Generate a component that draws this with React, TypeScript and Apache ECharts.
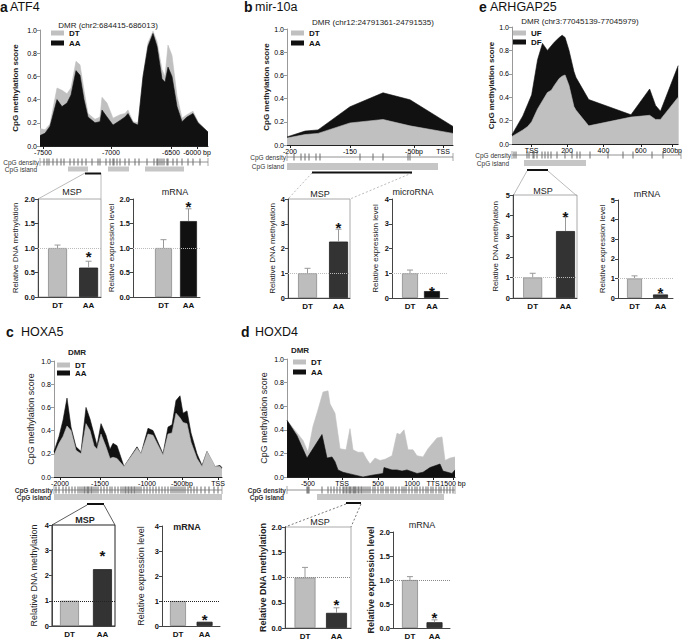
import React, { useEffect, useRef } from 'react';
import * as echarts from 'echarts';

const FONT = '"Liberation Sans", Arial, Helvetica, sans-serif';

// ---------- Panel a: ATF4 ----------
const atf4Pos = [0, 5, 10, 17, 22, 27, 31, 36, 40, 44, 48, 55, 60, 62, 67, 73, 80, 85, 88, 93, 98, 103, 108, 113, 117, 122, 125, 128, 132, 137, 142, 147, 153, 158, 168];
const atf4DT = [0.15, 0.14, 0.19, 0.5, 0.48, 0.45, 0.5, 0.73, 0.7, 0.48, 0.28, 0.23, 0.25, 0.42, 0.37, 0.24, 0.27, 0.28, 0.31, 0.21, 0.2, 0.6, 0.89, 0.99, 0.9, 0.66, 0.6, 0.87, 0.78, 0.43, 0.24, 0.27, 0.3, 0.21, 0.12];
const atf4AA = [0.09, 0.11, 0.17, 0.4, 0.34, 0.37, 0.44, 0.65, 0.61, 0.4, 0.25, 0.2, 0.21, 0.31, 0.25, 0.18, 0.22, 0.25, 0.28, 0.2, 0.18, 0.6, 0.86, 0.97, 0.86, 0.58, 0.55, 0.68, 0.6, 0.34, 0.21, 0.25, 0.28, 0.2, 0.12];
const atf4TickPos = [3, 71, 131, 157];
const atf4TickLabels = ['-7500', '-7000', '-6500', '-6000 bp'];
const atf4Cpg = [4, 7, 9, 13, 17, 21, 24, 30, 34, 38, 42, 46, 52, 58, 60, 66, 70, 73, 74, 77, 80, 85, 89, 95, 99, 107, 114, 117, 118, 120, 122, 124, 127, 128, 133, 137, 142, 148, 153, 160];
const atf4Island = [[28, 48], [68, 89], [105, 144]];
const atf4MspRegion = [45, 61];

// ---------- Panel b: mir-10a ----------
const mirPos = [0, 18, 31, 63, 96, 123, 166];
const mirDT = [0.06, 0.09, 0.1, 0.19, 0.22, 0.165, 0.1];
const mirAA = [0.07, 0.12, 0.13, 0.33, 0.45, 0.39, 0.16];
const mirTickPos = [3, 63, 127, 156];
const mirTickLabels = ['-200', '-150', '-50bp', 'TSS'];
const mirCpg = [7, 14, 18, 22, 29, 33, 73, 86, 96, 121, 123];
const mirIsland = [[0, 151]];
const mirMspRegion = [25, 125];

// ---------- Panel e: ARHGAP25 ----------
const arhPos = [0, 11, 16, 20, 26, 31, 36, 40, 43, 48, 51, 54, 58, 63, 65, 78, 121, 140, 146, 151, 169];
const arhUF = [0.065, 0.12, 0.15, 0.19, 0.3, 0.37, 0.44, 0.46, 0.5, 0.56, 0.58, 0.59, 0.5, 0.32, 0.29, 0.155, 0.23, 0.245, 0.21, 0.21, 0.4];
const arhDF = [0.08, 0.24, 0.34, 0.42, 0.72, 0.86, 0.8, 0.84, 0.87, 0.91, 0.93, 0.91, 0.8, 0.62, 0.57, 0.38, 0.25, 0.47, 0.33, 0.28, 0.67];
const arhTickPos = [20, 56, 93, 131, 163];
const arhTickLabels = ['TSS', '200', '400', '600', '800bp'];
const arhCpg = [2, 4, 15, 17, 21, 22, 25, 30, 33, 36, 39, 45, 53, 60, 65, 68, 78, 96, 111, 121, 140, 151];
const arhIsland = [[12, 74]];
const arhMspRegion = [15, 36];

// ---------- Panel c: HOXA5 ----------
const hoxa5Pos = [0, 5, 9, 13, 17, 22, 27, 32, 36, 40, 43, 47, 52, 56, 59, 63, 70, 83, 87, 94, 99, 109, 114, 118, 122, 126, 129, 133, 137, 143, 148, 153, 159, 161, 166, 168];
const hoxa5AA = [0.22, 0.35, 0.49, 0.68, 0.43, 0.26, 0.22, 0.6, 0.5, 0.37, 0.27, 0.46, 0.36, 0.24, 0.29, 0.27, 0.09, 0.26, 0.2, 0.42, 0.4, 0.2, 0.43, 0.45, 0.66, 0.7, 0.55, 0.57, 0.38, 0.2, 0.1, 0.22, 0.12, 0.09, 0.1, 0.08];
const hoxa5DT = [0.19, 0.29, 0.35, 0.44, 0.4, 0.23, 0.2, 0.46, 0.4, 0.27, 0.24, 0.37, 0.26, 0.16, 0.17, 0.16, 0.09, 0.25, 0.2, 0.37, 0.36, 0.19, 0.37, 0.38, 0.55, 0.51, 0.47, 0.46, 0.3, 0.16, 0.09, 0.22, 0.13, 0.09, 0.09, 0.07];
const hoxa5TickPos = [6, 46, 93, 128, 164];
const hoxa5TickLabels = ['-2000', '-1500', '-1000', '-500bp', 'TSS'];
const hoxa5Cpg = [2, 5, 9, 12, 15, 18, 21, 24, 26, 28, 30, 31, 33, 34, 35, 37, 38, 40, 42, 44, 47, 50, 53, 56, 58, 61, 64, 67, 69, 71, 72, 74, 75, 77, 78, 80, 81, 83, 85, 87, 90, 93, 96, 99, 102, 105, 108, 111, 114, 117, 119, 121, 123, 125, 127, 129, 131, 134, 137, 140, 143, 147, 151, 155, 160, 164];
const hoxa5Island = [[0, 168]];
const hoxa5MspRegion = [33, 50];

// ---------- Panel d: HOXD4 ----------
const hoxd4DtPos = [0, 16, 21, 26, 31, 36, 41, 43, 48, 53, 59, 63, 66, 71, 76, 79, 83, 88, 93, 98, 105, 110, 113, 117, 121, 126, 130, 136, 141, 145, 150, 155, 158, 163, 168];
const hoxd4DT = [0.48, 0.31, 0.21, 0.43, 0.57, 0.72, 0.73, 0.62, 0.54, 0.24, 0.23, 0.41, 0.23, 0.21, 0.21, 0.16, 0.11, 0.16, 0.14, 0.15, 0.18, 0.37, 0.36, 0.4, 0.23, 0.23, 0.18, 0.17, 0.24, 0.28, 0.33, 0.34, 0.14, 0.16, 0.17];
const hoxd4AaPos = [0, 10, 20, 35, 40, 45, 48, 51, 56, 66, 76, 85, 96, 97, 105, 110, 115, 120, 130, 136, 143, 153, 156, 165, 168];
const hoxd4AA = [0.48, 0.35, 0.16, 0.36, 0.16, 0.17, 0.13, 0.06, 0.04, 0.02, 0.0, 0.015, 0.03, 0.08, 0.06, 0.06, 0.05, 0.06, 0.03, 0.04, 0.08, 0.11, 0.05, 0.03, 0.06];
const hoxd4TickPos = [21, 55, 91, 125, 146, 166];
const hoxd4TickLabels = ['-500', 'TSS', '500', '1000', 'TTS', '1500 bp'];
const hoxd4Cpg = [20, 21, 22, 35, 41, 44, 47, 50, 53, 56, 57, 59, 60, 62, 63, 64, 66, 67, 68, 69, 71, 72, 74, 75, 77, 79, 81, 83, 86, 88, 91, 94, 96, 99, 101, 104, 106, 109, 112, 115, 117, 119, 122, 125, 128, 130, 133, 136, 139, 141, 144, 146, 149, 152, 154, 157, 160, 163, 166];
const hoxd4Island = [[30, 157]];
const hoxd4MspRegion = [59, 74];

// ---------- Bar charts ----------
const barCats = ['DT', 'AA'];
const atf4Msp = [1.0, 0.6], atf4MspErr = [1.06, 0.73], atf4MspStar = 0.9;
const atf4Mrna = [1.0, 1.55], atf4MrnaErr = [1.17, 1.8], atf4MrnaStar = 1.92;
const mirMsp = [1.0, 2.28], mirMspErr = [1.2, 2.78], mirMspStar = 3.03;
const mirMicro = [1.0, 0.28], mirMicroErr = [1.13, 0.33], mirMicroStar = 0.44;
const arhMsp = [1.0, 3.25], arhMspErr = [1.2, 3.95], arhMspStar = 4.17;
const arhMrna = [1.0, 0.18], arhMrnaErr = [1.13, 0.22], arhMrnaStar = 0.46;
const hoxa5Msp = [1.0, 2.25], hoxa5MspErr = [null, null], hoxa5MspStar = 2.97;
const hoxa5Mrna = [1.0, 0.17], hoxa5MrnaErr = [null, null], hoxa5MrnaStar = 0.44;
const hoxd4Msp = [1.0, 0.3], hoxd4MspErr = [1.2, 0.4], hoxd4MspStar = 0.55;
const hoxd4Mrna = [1.0, 0.12], hoxd4MrnaErr = [1.07, 0.17], hoxd4MrnaStar = 0.3;

const GRAY = '#c0c0c0';
const BLACK = '#111111';
const DARK = '#333333';

function buildOption() {
  const grid: any[] = [];
  const xAxis: any[] = [];
  const yAxis: any[] = [];
  const series: any[] = [];
  const graphic: any[] = [];

  const addGrid = (g: any, x: any, y: any) => {
    grid.push(g);
    const i = grid.length - 1;
    xAxis.push({ ...x, gridIndex: i });
    yAxis.push({ ...y, gridIndex: i });
    return i;
  };

  const txt = (x: number, y: number, text: string, o: any = {}) => {
    graphic.push({
      type: 'text',
      x, y,
      silent: true,
      style: {
        text,
        fill: o.color || '#222',
        fontSize: o.size || 8,
        fontWeight: o.bold ? 'bold' : 'normal',
        fontFamily: FONT,
        textAlign: o.align || 'left',
        align: o.align || 'left',
        textVerticalAlign: 'middle',
        verticalAlign: 'middle',
      },
    });
  };

  const seg = (x1: number, y1: number, x2: number, y2: number, color: string, dash?: number[]) => {
    graphic.push({
      type: 'line', silent: true,
      shape: { x1, y1, x2, y2 },
      style: { stroke: color, lineWidth: 0.8, lineDash: dash || null },
    });
  };

  const addArea = (p: any) => {
    const lookup = (v: number) => {
      const k = p.tickPos.findIndex((t: number) => Math.abs(t - v) < 0.01);
      return k >= 0 ? p.tickLabels[k] : '';
    };
    const i = addGrid(
      { left: p.left, top: p.top, width: p.width, height: p.height },
      {
        type: 'value', min: 0, max: p.width,
        axisLine: { onZero: false, lineStyle: { color: '#222', width: 1 } },
        axisTick: { show: true, customValues: p.tickPos, length: 3, lineStyle: { color: '#222' } },
        axisLabel: { customValues: p.tickPos, formatter: lookup, fontSize: 7, color: '#000', margin: 3, fontFamily: FONT },
        splitLine: { show: false },
      },
      {
        type: 'value', min: 0, max: 1, interval: 0.2,
        name: 'CpG methylation score', nameLocation: 'middle', nameGap: p.yGap,
        nameTextStyle: { fontSize: p.titleSize || 8, fontWeight: p.titleBold === false ? 'normal' : 'bold', color: '#222', fontFamily: FONT },
        axisLine: { show: true, onZero: false, lineStyle: { color: '#999' } },
        axisTick: { show: true, length: 3, lineStyle: { color: '#999' } },
        axisLabel: { formatter: (v: number) => v.toFixed(1), fontSize: 7, color: '#000', margin: 3, fontFamily: FONT },
        splitLine: { show: false },
      }
    );
    p.series.forEach((s: any) => {
      series.push({
        type: 'line', name: s.name, xAxisIndex: i, yAxisIndex: i,
        data: s.pos.map((x: number, k: number) => [x, s.vals[k]]),
        symbol: 'none', silent: true, z: s.z,
        lineStyle: { width: 0.6, color: s.color },
        itemStyle: { color: s.color },
        areaStyle: { color: s.color, opacity: 1 },
      });
    });
  };

  const addTrack = (t: any) => {
    const top = t.densityY - 8;
    const h = 24;
    const i = addGrid(
      { left: t.left, top, width: t.width, height: h },
      { type: 'value', min: 0, max: t.width, show: false },
      { type: 'value', min: 0, max: h, inverse: true, show: false }
    );
    const dy = t.densityY - top;
    const iy = t.islandY - top;
    const my = t.mspY - top;
    series.push({
      type: 'line', xAxisIndex: i, yAxisIndex: i, silent: true, symbol: 'none',
      data: [[0, dy], [t.width, dy]], lineStyle: { color: '#777', width: 0.8 },
    });
    series.push({
      type: 'scatter', xAxisIndex: i, yAxisIndex: i, silent: true,
      data: [[0, dy], [t.width, dy]], symbol: 'rect', symbolSize: [0.8, 8], itemStyle: { color: '#777' },
    });
    series.push({
      type: 'scatter', xAxisIndex: i, yAxisIndex: i, silent: true,
      data: t.cpg.map((x: number) => [x, dy]), symbol: 'rect', symbolSize: [0.9, 7], itemStyle: { color: '#333' },
    });
    series.push({
      type: 'custom', xAxisIndex: i, yAxisIndex: i, silent: true,
      data: t.islands,
      renderItem: (_p: any, api: any) => {
        const a = api.coord([api.value(0), iy]);
        const b = api.coord([api.value(1), iy]);
        return { type: 'rect', shape: { x: a[0], y: a[1] - t.islandH / 2, width: b[0] - a[0], height: t.islandH }, style: { fill: '#c6c6c6' } };
      },
    });
    series.push({
      type: 'custom', xAxisIndex: i, yAxisIndex: i, silent: true,
      data: [t.msp],
      renderItem: (_p: any, api: any) => {
        const a = api.coord([api.value(0), my]);
        const b = api.coord([api.value(1), my]);
        return { type: 'rect', shape: { x: a[0], y: a[1] - 1, width: b[0] - a[0], height: 2 }, style: { fill: '#111' } };
      },
    });
    txt(t.left - 1, t.densityY, 'CpG density', { size: 6.5, align: 'right', bold: t.bold, color: '#333' });
    txt(t.left - 3, t.islandY, 'CpG island', { size: 6.5, align: 'right', bold: t.bold, color: '#333' });
  };

  const addBars = (b: any) => {
    const i = addGrid(
      {
        left: b.left, top: b.top, width: b.width, height: b.height,
        show: !!b.box, borderColor: b.boxColor || '#999', borderWidth: 1, backgroundColor: 'transparent',
      },
      {
        type: 'value', min: b.xMin, max: b.xMax,
        axisLine: { onZero: false, lineStyle: { color: '#444' } },
        axisTick: { show: false },
        axisLabel: { customValues: [0, 1], formatter: (v: number) => barCats[Math.round(v)], fontSize: 8, fontWeight: 'bold', color: '#111', margin: 4, fontFamily: FONT },
        splitLine: { show: false },
      },
      {
        type: 'value', min: 0, max: b.yMax, interval: b.yInterval,
        name: b.yTitle, nameLocation: 'middle', nameGap: b.yGap,
        nameTextStyle: { fontSize: b.yTitleSize || 8, fontWeight: b.yTitleBold ? 'bold' : 'normal', color: '#222', fontFamily: FONT },
        axisLine: { show: true, onZero: false, lineStyle: { color: '#444' } },
        axisTick: { show: true, length: 3, lineStyle: { color: '#444' } },
        axisLabel: { formatter: (v: number) => v.toFixed(b.dec), fontSize: 7.5, fontWeight: 'bold', color: '#111', margin: 3, fontFamily: FONT },
        splitLine: { show: false },
      }
    );
    series.push({
      type: 'bar', xAxisIndex: i, yAxisIndex: i, barWidth: b.barWidth, silent: true, z: 2,
      data: b.values.map((v: number, k: number) => ({
        value: [k, v],
        itemStyle: { color: k === 0 ? '#bdbdbd' : b.aaColor, borderColor: k === 0 ? '#8c8c8c' : '#222', borderWidth: 0.8 },
      })),
      markLine: {
        silent: true, symbol: ['none', 'none'], label: { show: false },
        lineStyle: { type: 'dotted', color: b.refColor, width: 1 },
        data: [{ yAxis: 1 }],
      },
    });
    const errData = b.values
      .map((v: number, k: number) => [k, v, b.err[k]])
      .filter((d: any[]) => d[2] != null);
    if (errData.length) {
      series.push({
        type: 'custom', xAxisIndex: i, yAxisIndex: i, silent: true, z: 4,
        data: errData,
        renderItem: (_p: any, api: any) => {
          const base = api.coord([api.value(0), api.value(1)]);
          const top = api.coord([api.value(0), api.value(2)]);
          return {
            type: 'group',
            children: [
              { type: 'line', shape: { x1: base[0], y1: base[1], x2: top[0], y2: top[1] }, style: { stroke: '#999', lineWidth: 1 } },
              { type: 'line', shape: { x1: top[0] - 3, y1: top[1], x2: top[0] + 3, y2: top[1] }, style: { stroke: '#999', lineWidth: 1 } },
            ],
          };
        },
      });
    }
    series.push({
      type: 'custom', xAxisIndex: i, yAxisIndex: i, silent: true, z: 5,
      data: [[1, b.star]],
      renderItem: (_p: any, api: any) => {
        const c = api.coord([api.value(0), api.value(1)]);
        return {
          type: 'text', x: c[0], y: c[1] + 4,
          style: {
            text: '*', fill: '#111', fontSize: 15, fontWeight: 'bold', fontFamily: FONT,
            textAlign: 'center', align: 'center', textVerticalAlign: 'middle', verticalAlign: 'middle',
          },
        };
      },
    });
    txt(b.titleX, b.titleY, b.title, { size: 9, align: 'center', bold: b.titleBold });
  };

  // ===== Panel a =====
  txt(0, 7, 'a', { size: 14, bold: true, color: '#111' });
  txt(10, 7, 'ATF4', { size: 12.5, color: '#111' });
  txt(108, 25, 'DMR (chr2:684415-686013)', { size: 8, align: 'center' });
  addArea({
    left: 40, top: 30, width: 168, height: 116, yGap: 21,
    tickPos: atf4TickPos, tickLabels: atf4TickLabels,
    series: [
      { name: 'DT', color: GRAY, pos: atf4Pos, vals: atf4DT, z: 2 },
      { name: 'AA', color: BLACK, pos: atf4Pos, vals: atf4AA, z: 3 },
    ],
  });
  addTrack({ left: 40, width: 168, densityY: 162, islandY: 169, islandH: 5, mspY: 173.5, cpg: atf4Cpg, islands: atf4Island, msp: atf4MspRegion });
  seg(85, 173, 38, 199, '#aaa');
  seg(101, 173, 101, 199, '#aaa');
  addBars({
    left: 38, top: 199, width: 63, height: 98, xMin: -0.63, xMax: 1.4, yMax: 2, yInterval: 0.5, dec: 1,
    values: atf4Msp, err: atf4MspErr, star: atf4MspStar, aaColor: DARK, barWidth: 19,
    box: true, boxColor: '#aaa', refColor: '#bbb', yTitle: 'Relative DNA methylation', yGap: 19,
    title: 'MSP', titleX: 72, titleY: 192,
  });
  addBars({
    left: 133, top: 199, width: 67, height: 98, xMin: -1.22, xMax: 1.46, yMax: 2, yInterval: 0.5, dec: 1,
    values: atf4Mrna, err: atf4MrnaErr, star: atf4MrnaStar, aaColor: BLACK, barWidth: 17,
    box: false, refColor: '#bbb', yTitle: 'Relative expression level', yGap: 10,
    title: 'mRNA', titleX: 175, titleY: 192,
  });

  // ===== Panel b =====
  txt(244, 7, 'b', { size: 14, bold: true, color: '#111' });
  txt(255, 7, 'mir-10a', { size: 12.5, color: '#111' });
  txt(373, 22, 'DMR (chr12:24791361-24791535)', { size: 8, align: 'center' });
  addArea({
    left: 287, top: 29, width: 166, height: 116, yGap: 13,
    tickPos: mirTickPos, tickLabels: mirTickLabels,
    series: [
      { name: 'AA', color: BLACK, pos: mirPos, vals: mirAA, z: 2 },
      { name: 'DT', color: GRAY, pos: mirPos, vals: mirDT, z: 3 },
    ],
  });
  addTrack({ left: 287, width: 166, densityY: 157, islandY: 166.5, islandH: 7, mspY: 172.5, cpg: mirCpg, islands: mirIsland, msp: mirMspRegion });
  seg(312, 173, 288, 199, '#aaa', [2, 2]);
  seg(412, 173, 350, 199, '#aaa', [2, 2]);
  addBars({
    left: 288, top: 199, width: 62, height: 99, xMin: -0.63, xMax: 1.37, yMax: 4, yInterval: 1, dec: 0,
    values: mirMsp, err: mirMspErr, star: mirMspStar, aaColor: DARK, barWidth: 19,
    box: true, boxColor: '#aaa', refColor: '#bbb', yTitle: 'Relative DNA methylation', yGap: 11,
    title: 'MSP', titleX: 320, titleY: 194,
  });
  addBars({
    left: 392, top: 199, width: 56, height: 99, xMin: -0.82, xMax: 1.73, yMax: 4, yInterval: 1, dec: 0,
    values: mirMicro, err: mirMicroErr, star: mirMicroStar, aaColor: BLACK, barWidth: 16,
    box: false, refColor: '#bbb', yTitle: 'Relative expression level', yGap: 13,
    title: 'microRNA', titleX: 413, titleY: 192,
  });

  // ===== Panel e =====
  txt(479, 7, 'e', { size: 14, bold: true, color: '#111' });
  txt(490, 7, 'ARHGAP25', { size: 12.5, color: '#111' });
  txt(580, 21, 'DMR (chr3:77045139-77045979)', { size: 8, align: 'center' });
  addArea({
    left: 512, top: 27, width: 169, height: 117, yGap: 16,
    tickPos: arhTickPos, tickLabels: arhTickLabels,
    series: [
      { name: 'DF', color: BLACK, pos: arhPos, vals: arhDF, z: 2 },
      { name: 'UF', color: GRAY, pos: arhPos, vals: arhUF, z: 3 },
    ],
  });
  addTrack({ left: 512, width: 169, densityY: 155, islandY: 163, islandH: 6, mspY: 170, cpg: arhCpg, islands: arhIsland, msp: arhMspRegion });
  seg(527, 171, 513, 196, '#aaa');
  seg(548, 171, 577, 196, '#aaa');
  addBars({
    left: 513, top: 195, width: 64, height: 103, xMin: -0.6, xMax: 1.35, yMax: 5, yInterval: 1, dec: 0,
    values: arhMsp, err: arhMspErr, star: arhMspStar, aaColor: DARK, barWidth: 19,
    box: true, boxColor: '#aaa', refColor: '#bbb', yTitle: 'Relative DNA methylation', yGap: 14,
    title: 'MSP', titleX: 543, titleY: 191,
  });
  addBars({
    left: 618, top: 200, width: 55, height: 98, xMin: -0.635, xMax: 1.48, yMax: 5, yInterval: 1, dec: 0,
    values: arhMrna, err: arhMrnaErr, star: arhMrnaStar, aaColor: DARK, barWidth: 15,
    box: false, refColor: '#bbb', yTitle: 'Relative expression level', yGap: 12,
    title: 'mRNA', titleX: 647, titleY: 194,
  });

  // ===== Panel c =====
  txt(6, 332, 'c', { size: 14, bold: true, color: '#111' });
  txt(21, 332, 'HOXA5', { size: 12.5, color: '#111' });
  txt(77, 352, 'DMR', { size: 8, align: 'center', bold: true });
  addArea({
    left: 54, top: 361, width: 168, height: 116, yGap: 19, titleSize: 9, titleBold: false,
    tickPos: hoxa5TickPos, tickLabels: hoxa5TickLabels,
    series: [
      { name: 'AA', color: BLACK, pos: hoxa5Pos, vals: hoxa5AA, z: 2 },
      { name: 'DT', color: GRAY, pos: hoxa5Pos, vals: hoxa5DT, z: 3 },
    ],
  });
  addTrack({ left: 54, width: 168, densityY: 490, islandY: 497, islandH: 6, mspY: 504, cpg: hoxa5Cpg, islands: hoxa5Island, msp: hoxa5MspRegion, bold: true });
  seg(87, 505, 52, 525, '#333');
  seg(104, 505, 115, 525, '#333');
  addBars({
    left: 52, top: 525, width: 63, height: 101, xMin: -0.53, xMax: 1.38, yMax: 4, yInterval: 1, dec: 0,
    values: hoxa5Msp, err: hoxa5MspErr, star: hoxa5MspStar, aaColor: DARK, barWidth: 19,
    box: true, boxColor: '#222', refColor: '#222', yTitle: 'Relative DNA methylation', yGap: 14, yTitleSize: 9,
    title: 'MSP', titleX: 85, titleY: 520, titleBold: true,
  });
  addBars({
    left: 162, top: 526, width: 58, height: 100, xMin: -0.6, xMax: 1.58, yMax: 4, yInterval: 1, dec: 0,
    values: hoxa5Mrna, err: hoxa5MrnaErr, star: hoxa5MrnaStar, aaColor: DARK, barWidth: 16,
    box: false, refColor: '#222', yTitle: 'Relative expression level', yGap: 17, yTitleSize: 9,
    title: 'mRNA', titleX: 187, titleY: 527, titleBold: true,
  });

  // ===== Panel d =====
  txt(241, 332, 'd', { size: 14, bold: true, color: '#111' });
  txt(255, 332, 'HOXD4', { size: 12.5, color: '#111' });
  txt(300, 350, 'DMR', { size: 8, align: 'center', bold: true });
  addArea({
    left: 287, top: 359, width: 168, height: 118, yGap: 19, titleSize: 9, titleBold: false,
    tickPos: hoxd4TickPos, tickLabels: hoxd4TickLabels,
    series: [
      { name: 'DT', color: GRAY, pos: hoxd4DtPos, vals: hoxd4DT, z: 2 },
      { name: 'AA', color: BLACK, pos: hoxd4AaPos, vals: hoxd4AA, z: 3 },
    ],
  });
  addTrack({ left: 287, width: 168, densityY: 490, islandY: 497, islandH: 6, mspY: 503, cpg: hoxd4Cpg, islands: hoxd4Island, msp: hoxd4MspRegion, bold: true });
  seg(346, 504, 285, 527, '#555', [2, 2]);
  seg(361, 504, 351, 527, '#555', [2, 2]);
  addBars({
    left: 285, top: 527, width: 66, height: 101, xMin: -0.635, xMax: 1.46, yMax: 2, yInterval: 0.5, dec: 1,
    values: hoxd4Msp, err: hoxd4MspErr, star: hoxd4MspStar, aaColor: DARK, barWidth: 21,
    box: true, boxColor: '#aaa', refColor: '#888', yTitle: 'Relative DNA methylation', yGap: 18, yTitleSize: 9, yTitleBold: true,
    title: 'MSP', titleX: 320, titleY: 522,
  });
  addBars({
    left: 393, top: 532, width: 57, height: 96, xMin: -0.69, xMax: 1.63, yMax: 2, yInterval: 0.5, dec: 1,
    values: hoxd4Mrna, err: hoxd4MrnaErr, star: hoxd4MrnaStar, aaColor: DARK, barWidth: 16,
    box: false, refColor: '#888', yTitle: 'Relative expression level', yGap: 18, yTitleSize: 9, yTitleBold: true,
    title: 'mRNA', titleX: 422, titleY: 525,
  });

  const legendBase = {
    orient: 'vertical', itemWidth: 13, itemHeight: 5, padding: 0, selectedMode: false, icon: 'rect',
    textStyle: { fontSize: 8, fontWeight: 'bold', color: '#111', lineHeight: 8, fontFamily: FONT },
  };
  const legend = [
    { ...legendBase, left: 51, top: 29, itemGap: 2, data: ['DT', 'AA'] },
    { ...legendBase, left: 291, top: 29, itemGap: 2, data: ['DT', 'AA'] },
    { ...legendBase, left: 513, top: 29, itemGap: 1, data: ['UF', 'DF'] },
    { ...legendBase, left: 57, top: 361, itemGap: 0, data: ['DT', 'AA'] },
    { ...legendBase, left: 293, top: 358, itemGap: 2, data: ['DT', 'AA'] },
  ];

  return {
    animation: false,
    backgroundColor: '#ffffff',
    textStyle: { fontFamily: FONT, color: '#222' },
    grid, xAxis, yAxis, series, graphic, legend,
  };
}

export default function App() {
  const ref = useRef<HTMLDivElement>(null);
  useEffect(() => {
    if (!ref.current) return;
    const chart = echarts.init(ref.current, null, { renderer: 'svg' });
    chart.setOption(buildOption() as any);
    return () => chart.dispose();
  }, []);
  return (
    <div
      ref={ref}
      style={{ position: 'absolute', left: 0, top: 0, width: 685, height: 640, background: '#fff' }}
    />
  );
}
